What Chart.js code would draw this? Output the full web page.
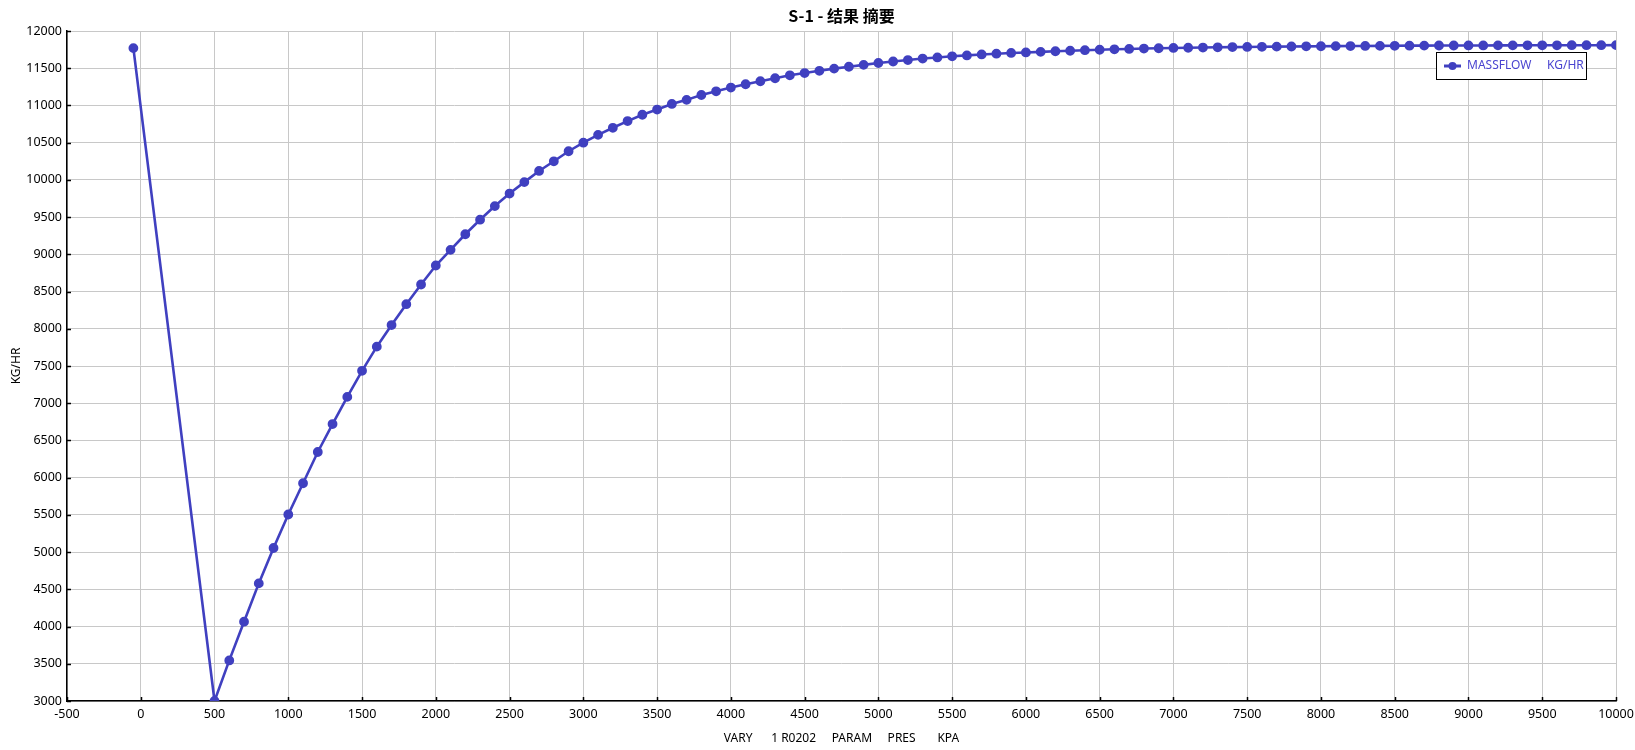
<!DOCTYPE html>
<html>
<head>
<meta charset="utf-8">
<script src="https://cdn.jsdelivr.net/npm/chart.js@4.4.1/dist/chart.umd.min.js"></script>
<style>
	body { margin: 0; background: #fff; }
	#wrap { width: 1635px; height: 750px; }
</style>
</head>
<body>
<div id="wrap"><canvas id="massChart" width="1635" height="750"></canvas></div>

<script>
// VARY 1 R0202 PARAM PRES (KPA)
var pres = [
	-50, 500,
	600, 700, 800, 900, 1000, 1100, 1200, 1300, 1400, 1500,
	1600, 1700, 1800, 1900, 2000, 2100, 2200, 2300, 2400, 2500,
	2600, 2700, 2800, 2900, 3000, 3100, 3200, 3300, 3400, 3500,
	3600, 3700, 3800, 3900, 4000, 4100, 4200, 4300, 4400, 4500,
	4600, 4700, 4800, 4900, 5000, 5100, 5200, 5300, 5400, 5500,
	5600, 5700, 5800, 5900, 6000, 6100, 6200, 6300, 6400, 6500,
	6600, 6700, 6800, 6900, 7000, 7100, 7200, 7300, 7400, 7500,
	7600, 7700, 7800, 7900, 8000, 8100, 8200, 8300, 8400, 8500,
	8600, 8700, 8800, 8900, 9000, 9100, 9200, 9300, 9400, 9500,
	9600, 9700, 9800, 9900, 10000
];
// MASSFLOW (KG/HR)
var massflow = [
	11770, 3000,
	3545, 4065, 4580, 5055, 5505, 5925, 6345, 6720, 7085, 7435,
	7760, 8050, 8330, 8595, 8850, 9060, 9270, 9465, 9648, 9816,
	9970, 10120, 10250, 10385, 10500, 10605, 10700, 10790, 10875, 10945,
	11020, 11075, 11140, 11190, 11240, 11285, 11325, 11365, 11405, 11435,
	11465, 11495, 11520, 11545, 11570, 11590, 11610, 11630, 11645, 11660,
	11672, 11685, 11695, 11705, 11712, 11720, 11728, 11735, 11742, 11748,
	11754, 11759, 11764, 11768, 11772, 11775, 11778, 11781, 11784, 11786,
	11788, 11790, 11792, 11794, 11795, 11797, 11798, 11799, 11800, 11801,
	11803, 11804, 11805, 11805, 11806, 11806, 11807, 11807, 11808, 11808,
	11808, 11809, 11809, 11809, 11810
];
var chartTitle = 'S-1 - 结果 摘要';
var xTitle = 'VARY      1 R0202     PARAM     PRES       KPA';
var yTitle = 'KG/HR';
var seriesName = 'MASSFLOW';
var seriesUnit = 'KG/HR';

var lineColor = '#4040c0';
var tickFont = { family: 'Noto Sans', size: 12.5 };
var titleFont = { family: 'Noto Sans', size: 12 };

var points = [];
for (var i = 0; i < pres.length; i++) {
	points.push({ x: pres[i], y: massflow[i] });
}

// short black tick marks pointing into the plot
var innerTicks = {
	id: 'innerTicks',
	beforeDatasetsDraw: function(chart) {
		var ctx = chart.ctx;
		var xs = chart.scales.x, ys = chart.scales.y;
		var a = chart.chartArea;
		ctx.save();
		ctx.strokeStyle = '#000';
		ctx.lineWidth = 1.5;
		ctx.beginPath();
		xs.ticks.forEach(function(t) {
			var px = Math.round(xs.getPixelForValue(t.value)) + 0.5;
			ctx.moveTo(px, a.bottom);
			ctx.lineTo(px, a.bottom - 4);
		});
		ys.ticks.forEach(function(t) {
			var py = Math.round(ys.getPixelForValue(t.value)) + 0.5;
			ctx.moveTo(a.left, py);
			ctx.lineTo(a.left + 4, py);
		});
		ctx.stroke();
		ctx.restore();
	}
};

// title above the plot, legend box in the top right corner
var extras = {
	id: 'extras',
	afterDraw: function(chart) {
		var ctx = chart.ctx;
		var a = chart.chartArea;
		ctx.save();
		ctx.fillStyle = '#000';
		ctx.font = 'bold 16px "Noto Sans CJK SC"';
		ctx.textAlign = 'center';
		ctx.textBaseline = 'middle';
		ctx.fillText(chartTitle, (a.left + a.right) / 2, 16);

		var bx = a.right - 180, by = a.top + 21, bw = 150, bh = 27;
		ctx.fillStyle = '#fff';
		ctx.fillRect(bx, by, bw, bh);
		ctx.strokeStyle = '#000';
		ctx.lineWidth = 1;
		ctx.strokeRect(bx + 0.5, by + 0.5, bw, bh);
		var cy = by + bh / 2 + 0.5;
		ctx.strokeStyle = lineColor;
		ctx.lineWidth = 3;
		ctx.beginPath();
		ctx.moveTo(bx + 8, cy);
		ctx.lineTo(bx + 25, cy);
		ctx.stroke();
		ctx.fillStyle = lineColor;
		ctx.beginPath();
		ctx.arc(bx + 16.5, cy, 4, 0, Math.PI * 2);
		ctx.fill();
		ctx.fillStyle = '#4a44d0';
		ctx.font = '12px "Noto Sans"';
		ctx.textAlign = 'left';
		ctx.fillText(seriesName, bx + 31, cy);
		ctx.fillText(seriesUnit, bx + 111, cy);
		ctx.restore();
	}
};

var config = {
	type: 'scatter',
	data: {
		datasets: [{
			label: seriesName + ' ' + seriesUnit,
			data: points,
			showLine: true,
			borderColor: lineColor,
			backgroundColor: lineColor,
			borderWidth: 2.6,
			pointRadius: 3.6,
			pointHoverRadius: 3.6,
			tension: 0
		}]
	},
	options: {
		responsive: false,
		animation: false,
		layout: { padding: { top: 31, right: 19, bottom: 0, left: 0 } },
		plugins: {
			legend: { display: false },
			title: { display: false },
			tooltip: { enabled: false }
		},
		scales: {
			x: {
				type: 'linear',
				min: -500,
				max: 10000,
				ticks: {
					stepSize: 500, color: '#000', font: tickFont, padding: 6, maxRotation: 0,
					callback: function(v) { return String(v); }
				},
				grid: { color: '#c8c8c8', drawTicks: false, lineWidth: 1 },
				border: { color: '#000', width: 1.5 },
				title: { display: true, text: xTitle, color: '#000', font: titleFont, padding: { top: 0, bottom: 4 } },
				afterFit: function(scale) {
					scale.height = 49;
					scale.paddingLeft = 0;
					scale.paddingRight = 0;
				}
			},
			y: {
				min: 3000,
				max: 12000,
				ticks: {
					stepSize: 500, color: '#000', font: tickFont, padding: 5,
					callback: function(v) { return String(v); }
				},
				grid: { color: '#c8c8c8', drawTicks: false, lineWidth: 1 },
				border: { color: '#000', width: 1.5 },
				title: { display: true, text: yTitle, color: '#000', font: titleFont, padding: { top: 9, bottom: 0 } },
				afterFit: function(scale) {
					scale.width = 67;
					scale.paddingTop = 0;
					scale.paddingBottom = 0;
				}
			}
		}
	},
	plugins: [innerTicks, extras]
};

var massChart = new Chart(document.getElementById('massChart').getContext('2d'), config);
</script>
</body>
</html>
